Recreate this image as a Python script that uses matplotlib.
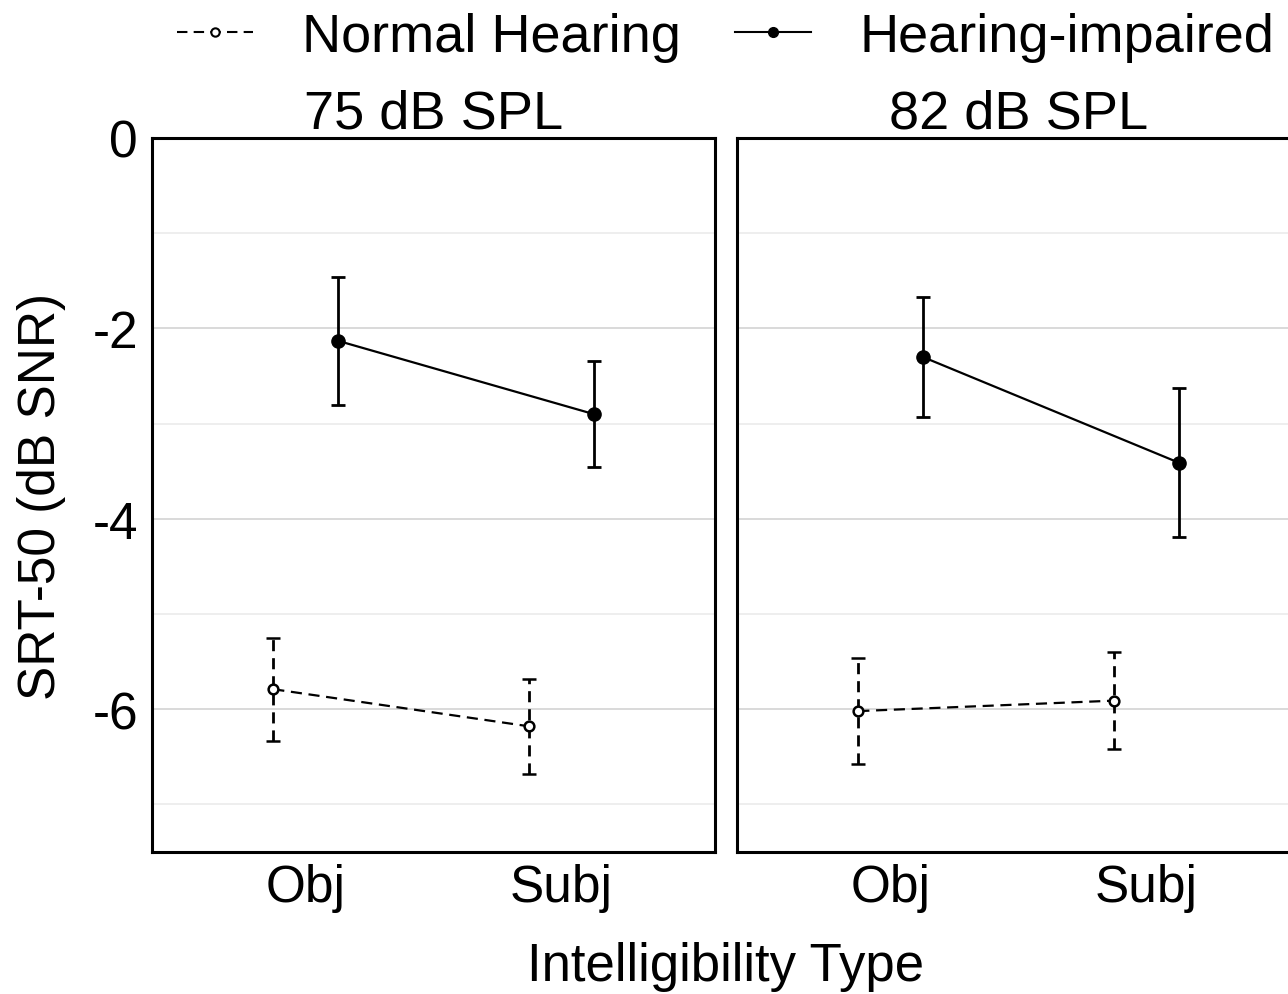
import matplotlib
matplotlib.use('Agg')
import matplotlib.pyplot as plt
from matplotlib.lines import Line2D
import numpy as np

plt.rcParams['font.family'] = ['Liberation Sans', 'DejaVu Sans']
plt.rcParams['axes.unicode_minus'] = False

# SRT-50 means and error bar half-widths per presentation level
categories = ['Obj', 'Subj']
levels = ['75 dB SPL', '82 dB SPL']
groups = ['Normal Hearing', 'Hearing-impaired']

nh_mean = {'75 dB SPL': [-5.79, -6.18], '82 dB SPL': [-6.02, -5.91]}
nh_err = {'75 dB SPL': [0.54, 0.50], '82 dB SPL': [0.56, 0.51]}
hi_mean = {'75 dB SPL': [-2.13, -2.90], '82 dB SPL': [-2.30, -3.41]}
hi_err = {'75 dB SPL': [0.67, 0.56], '82 dB SPL': [0.63, 0.78]}

W, H = 1288, 995
fig = plt.figure(figsize=(W / 100, H / 100), dpi=100)

# panel boxes in pixels (the right one runs past the figure edge)
panel_w = 563
top, bottom = 139, 853
lefts = [152, 737]
dodge = 0.126
nh_dash = (0, (5, 3))


def draw_panel(ax, level, show_y):
    x = np.arange(1, len(categories) + 1)
    # normal hearing: dashed line, open markers
    l1, c1, b1 = ax.errorbar(x - dodge, nh_mean[level], yerr=nh_err[level], color='black',
                             linestyle=nh_dash, linewidth=1.6, marker='o', markersize=7,
                             markerfacecolor='white', markeredgewidth=1.8, ecolor='black',
                             elinewidth=2, capsize=4.7, capthick=2, zorder=3)
    for b in b1:
        b.set_linestyle((0, (4, 2.5)))
    # hearing-impaired: solid line, filled markers
    ax.errorbar(x + dodge, hi_mean[level], yerr=hi_err[level], color='black',
                linestyle='-', linewidth=1.6, marker='o', markersize=9.5,
                markerfacecolor='black', ecolor='black', elinewidth=2,
                capsize=4.7, capthick=2, zorder=3)

    ax.set_xlim(0.4, 2.6)
    ax.set_ylim(-7.5, 0)
    ax.set_xticks(x)
    ax.set_xticklabels(categories)
    ax.set_yticks([0, -2, -4, -6])
    ax.set_yticks([-1, -3, -5, -7], minor=True)
    ax.grid(axis='y', which='major', color='#d9d9d9', linewidth=1.4)
    ax.grid(axis='y', which='minor', color='#ebebeb', linewidth=1.2)
    ax.set_axisbelow(True)
    ax.tick_params(axis='both', which='both', length=0, labelsize=37, colors='black')
    ax.tick_params(axis='x', pad=8)
    ax.tick_params(axis='y', pad=10)
    if not show_y:
        ax.tick_params(axis='y', labelleft=False)
    for s in ax.spines.values():
        s.set_linewidth(2.2)
        s.set_color('black')
    ax.set_title(level, fontsize=39, pad=6)


for i, level in enumerate(levels):
    ax = fig.add_axes([lefts[i] / W, 1 - bottom / H, panel_w / W, (bottom - top) / H])
    draw_panel(ax, level, show_y=(i == 0))

center_x = (lefts[0] + lefts[1] + panel_w) / 2 / W
fig.text(center_x, 1 - 967 / H, 'Intelligibility Type', ha='center', va='center', fontsize=38)
fig.text(42 / W, 1 - 497 / H, 'SRT-50 (dB SNR)', ha='center', va='center',
         rotation=90, fontsize=37)

handles = [
    Line2D([], [], color='black', linestyle=nh_dash, linewidth=1.5, marker='o',
           markersize=6, markerfacecolor='white', markeredgewidth=1.5),
    Line2D([], [], color='black', linestyle='-', linewidth=1.5, marker='o',
           markersize=7, markerfacecolor='black'),
]
fig.legend(handles, groups, loc='center', bbox_to_anchor=(center_x, 1 - 38 / H),
           ncol=2, frameon=False, fontsize=39, handlelength=1.4, handletextpad=0.9,
           columnspacing=1.0)

fig.savefig('out.png', dpi=100)
